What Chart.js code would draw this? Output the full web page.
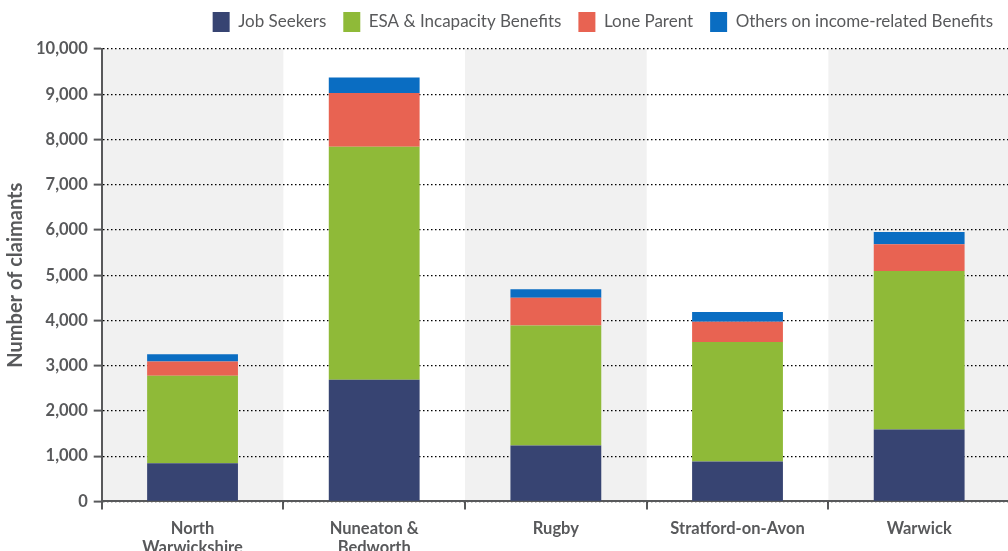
<!DOCTYPE html>
<html>
<head>
<meta charset="utf-8">
<script src="https://cdn.jsdelivr.net/npm/chart.js@4/dist/chart.umd.min.js"></script>
<style>
  html, body { margin: 0; padding: 0; overflow: hidden; background: #fff; }
</style>
</head>
<body>
<canvas id="graficoClaimants" width="1010" height="567"></canvas>
<script>
// dados
const districts = [['North', 'Warwickshire'], ['Nuneaton &', 'Bedworth'], 'Rugby', 'Stratford-on-Avon', 'Warwick'];
const jobSeekers = [845, 2690, 1235, 880, 1590];
const esaIncapacity = [1930, 5150, 2655, 2645, 3505];
const loneParent = [315, 1185, 610, 445, 590];
const othersIncome = [165, 345, 190, 215, 270];
const yTicks = [0, 1000, 2000, 3000, 4000, 5000, 6000, 7000, 8000, 9000, 10000];

const grey = '#58595b';

// faixas cinza alternadas atrás das barras
const bandas = {
    id: 'bandas',
    beforeDraw(chart) {
        const { ctx, chartArea, scales } = chart;
        const x = scales.x;
        const w = x.width / districts.length;
        ctx.save();
        ctx.fillStyle = '#f1f1f1';
        districts.forEach((d, i) => {
            if (i % 2 === 0) {
                const cx = x.getPixelForValue(i);
                ctx.fillRect(cx - w / 2, chartArea.top, w, chartArea.bottom - chartArea.top);
            }
        });
        ctx.restore();
    }
};

// um pouco mais de espaço abaixo da legenda
const espacoLegenda = {
    id: 'espacoLegenda',
    beforeInit(chart) {
        const fitOriginal = chart.legend.fit;
        chart.legend.fit = function () {
            fitOriginal.bind(chart.legend)();
            this.height += 7;
        };
    }
};

const ctxClaimants = document.getElementById('graficoClaimants');

new Chart(ctxClaimants, {
    type: 'bar',
    data: {
        labels: districts,
        datasets: [
            { label: 'Job Seekers', data: jobSeekers, backgroundColor: '#374472' },
            { label: 'ESA & Incapacity Benefits', data: esaIncapacity, backgroundColor: '#8fba38' },
            { label: 'Lone Parent', data: loneParent, backgroundColor: '#e86352' },
            { label: 'Others on income-related Benefits', data: othersIncome, backgroundColor: '#0a6dc2' }
        ]
    },
    options: {
        responsive: false,
        animation: false,
        barPercentage: 0.5,
        categoryPercentage: 1,
        layout: { padding: { left: 4, right: 0, top: -5, bottom: 0 } },
        plugins: {
            legend: {
                align: 'end',
                labels: {
                    boxWidth: 17,
                    boxHeight: 20,
                    padding: 17,
                    color: grey,
                    font: { family: 'Lato', size: 17 }
                }
            },
            tooltip: { enabled: false }
        },
        scales: {
            x: {
                stacked: true,
                grid: {
                    drawOnChartArea: false,
                    color: grey,
                    tickLength: 8,
                    lineWidth: 2
                },
                border: { color: grey, width: 2 },
                ticks: {
                    color: grey,
                    padding: 9,
                    font: { family: 'Lato', size: 16.5, weight: 'bold' }
                }
            },
            y: {
                stacked: true,
                min: 0,
                max: 10000,
                afterBuildTicks(axis) {
                    axis.ticks = yTicks.map(v => ({ value: v }));
                },
                grid: {
                    color: '#000',
                    lineWidth: 1.2,
                    tickColor: grey,
                    tickBorderDash: [],
                    tickWidth: 2,
                    tickLength: 8
                },
                border: { color: grey, width: 2, dash: [1.5, 2.5] },
                ticks: {
                    color: grey,
                    padding: 6,
                    font: { family: 'Lato', size: 16.5, weight: 'bold' },
                    callback: v => v.toLocaleString('en-US')
                },
                title: {
                    display: true,
                    text: 'Number of claimants',
                    color: grey,
                    padding: { top: 0, bottom: 2 },
                    font: { family: 'Lato', size: 20, weight: 'bold' }
                }
            }
        }
    },
    plugins: [bandas, espacoLegenda]
});
</script>
</body>
</html>
